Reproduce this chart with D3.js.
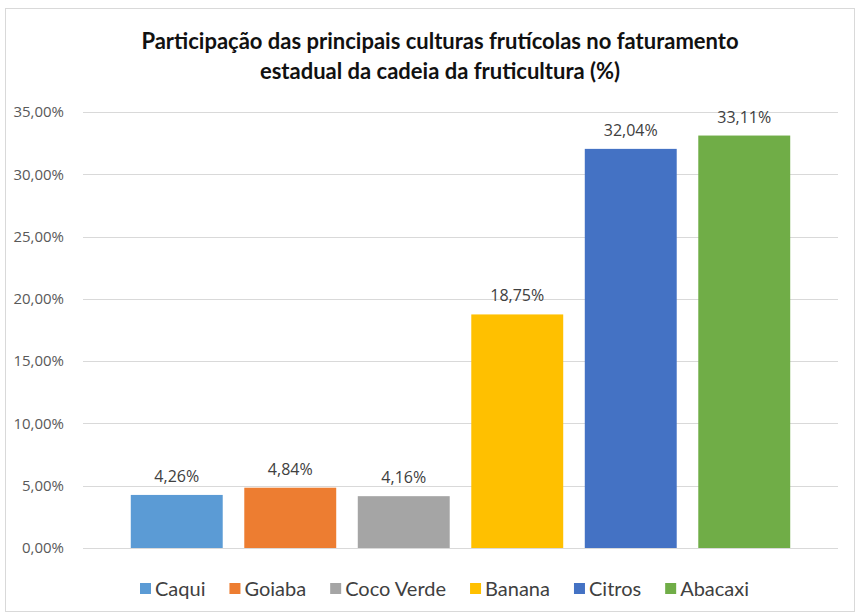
<!DOCTYPE html>
<html>
<head>
<meta charset="utf-8">
<script src="https://cdn.jsdelivr.net/npm/d3@7"></script>
<style>
  body { margin: 0; background: #fff; }
  svg { display: block; }
</style>
</head>
<body>
<div id="chart"></div>
<script>
// Chart data
const categories = ["Caqui", "Goiaba", "Coco Verde", "Banana", "Citros", "Abacaxi"];
const values = [4.26, 4.84, 4.16, 18.75, 32.04, 33.11];
const colors = ["#5b9bd5", "#ed7d31", "#a5a5a5", "#ffc000", "#4472c4", "#70ad47"];
const yTicks = [0, 5, 10, 15, 20, 25, 30, 35];
const titleLines = ["Participação das principais culturas frutícolas no faturamento",
                    "estadual da cadeia da fruticultura (%)"];

const width = 861, height = 614;
const fmt = v => v.toFixed(2).replace(".", ",") + "%";

const svg = d3.select("#chart").append("svg")
    .attr("width", width)
    .attr("height", height);

// Chart frame
svg.append("rect")
    .attr("x", 5.5).attr("y", 8.5)
    .attr("width", 849).attr("height", 603)
    .attr("fill", "#fff")
    .attr("stroke", "#d9d9d9");

// Scales
const y = d3.scaleLinear().domain([0, 35]).range([548, 112]);
const x = d3.scaleBand()
    .domain(categories)
    .range([120, 801])
    .paddingInner(0.19)
    .paddingOuter(0.095);

// Grid lines
svg.append("g")
    .selectAll("line")
    .data(yTicks)
    .join("line")
    .attr("x1", 83).attr("x2", 838)
    .attr("y1", d => Math.round(y(d)) + 0.5)
    .attr("y2", d => Math.round(y(d)) + 0.5)
    .attr("stroke", "#d9d9d9")
    .attr("stroke-width", 1);

// Y axis labels
svg.append("g")
    .selectAll("text")
    .data(yTicks)
    .join("text")
    .attr("x", 64)
    .attr("y", d => y(d))
    .attr("dy", "0.35em")
    .attr("text-anchor", "end")
    .style("font-family", "'Open Sans', sans-serif")
    .style("font-size", "15px")
    .style("fill", "#595959")
    .text(d => fmt(d));

// Bars
svg.append("g")
    .selectAll("rect")
    .data(values)
    .join("rect")
    .attr("x", (d, i) => x(categories[i]))
    .attr("y", d => y(d))
    .attr("width", x.bandwidth())
    .attr("height", d => y(0) - y(d))
    .attr("fill", (d, i) => colors[i]);

// Value labels
svg.append("g")
    .selectAll("text")
    .data(values)
    .join("text")
    .attr("x", (d, i) => x(categories[i]) + x.bandwidth() / 2)
    .attr("y", d => y(d) - 13)
    .attr("text-anchor", "middle")
    .style("font-family", "'Open Sans', sans-serif")
    .style("font-size", "16px")
    .style("fill", "#404040")
    .text(d => fmt(d));

// Title
svg.append("g")
    .selectAll("text")
    .data(titleLines)
    .join("text")
    .attr("x", 440)
    .attr("y", (d, i) => 49 + i * 30)
    .attr("text-anchor", "middle")
    .style("font-family", "Lato, sans-serif")
    .style("font-weight", "bold")
    .style("font-size", "22px")
    .style("fill", "#111")
    .text(d => d);

// Legend
const legend = svg.append("g");
let lx = 140;
categories.forEach((c, i) => {
    legend.append("rect")
        .attr("x", lx).attr("y", 583)
        .attr("width", 11).attr("height", 11)
        .attr("fill", colors[i]);
    const t = legend.append("text")
        .attr("x", lx + 15).attr("y", 589)
        .attr("dy", "0.35em")
        .style("font-family", "Lato, sans-serif")
        .style("font-size", "20px")
        .style("fill", "#404040")
        .text(c);
    lx += 15 + t.node().getComputedTextLength() + 24;
});
</script>
</body>
</html>
